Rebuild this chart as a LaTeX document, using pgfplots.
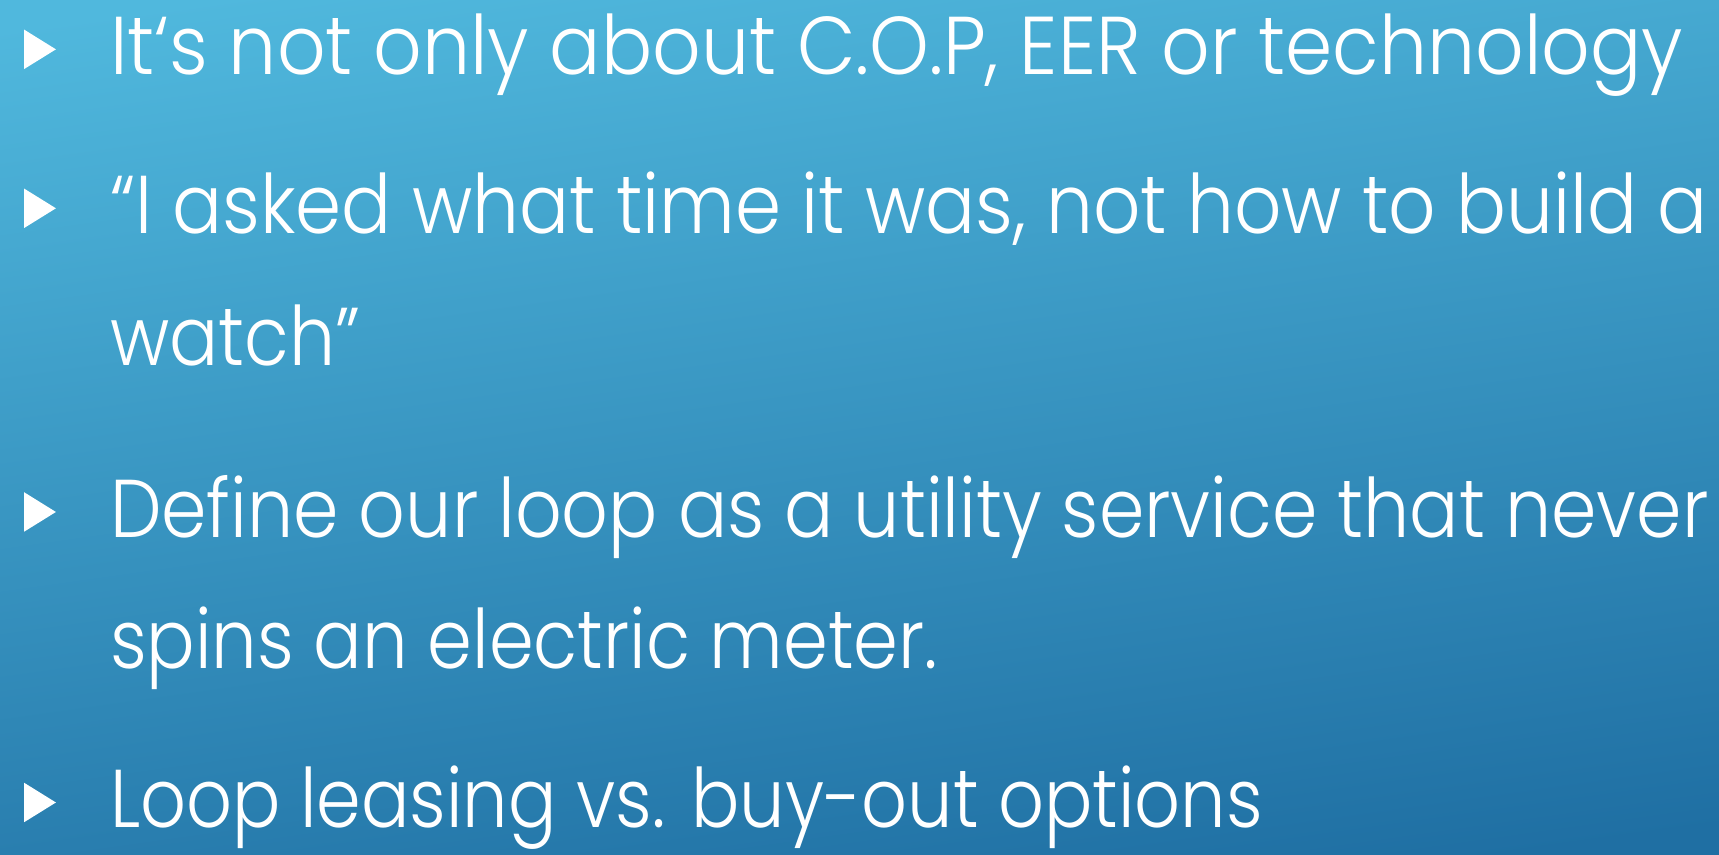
\documentclass[border=0pt]{standalone}
\usepackage{pgfplots}
\pgfplotsset{compat=1.18}
\usepackage{fontspec}
\setmainfont{Poppins}[UprightFont=* Light]
\definecolor{bgtop}{HTML}{50B8DD}
\definecolor{bgbot}{HTML}{1F6FA3}
\newcommand{\slidefont}{\fontsize{41}{41}\selectfont}
\newcommand{\sq}[2][0.875]{\scalebox{#1}[1]{#2}}
\begin{document}
\begin{tikzpicture}
\begin{axis}[
  scale only axis, width=859.5pt, height=427pt,
  xmin=0, xmax=1568, ymin=0, ymax=779, y dir=reverse,
  hide axis, clip=true,
]
\shade[top color=bgtop, bottom color=bgbot, shading angle=8]
  (axis cs:-50,-30) rectangle (axis cs:1620,810);
% bullet triangles (baselines 68, 213, 490, 755)
\addplot[fill=white, draw=none] coordinates {(22,27) (51,45) (22,63)} -- cycle;
\addplot[fill=white, draw=none] coordinates {(22,172) (51,190) (22,208)} -- cycle;
\addplot[fill=white, draw=none] coordinates {(22,449) (51,467) (22,485)} -- cycle;
\addplot[fill=white, draw=none] coordinates {(22,714) (51,732) (22,750)} -- cycle;
\node[anchor=base west, inner sep=0pt, text=white, font=\slidefont] at (axis cs:100,68) {\sq[0.926]{It‘s not only about C.O.P, EER or technology}};
\node[anchor=base west, inner sep=0pt, text=white, font=\slidefont] at (axis cs:100,213) {\sq[0.903]{“I asked what time it was, not how to build a}};
\node[anchor=base west, inner sep=0pt, text=white, font=\slidefont] at (axis cs:100,333) {\sq[0.888]{watch”}};
\node[anchor=base west, inner sep=0pt, text=white, font=\slidefont] at (axis cs:100,490) {\sq[0.89]{Define our loop as a utility service that never}};
\node[anchor=base west, inner sep=0pt, text=white, font=\slidefont] at (axis cs:100,610) {\sq[0.878]{spins an electric meter.}};
\node[anchor=base west, inner sep=0pt, text=white, font=\slidefont] at (axis cs:100,755) {\sq[0.875]{Loop leasing vs. buy-out options}};
\end{axis}
\pgfresetboundingbox
\useasboundingbox (current axis.south west) rectangle (current axis.north east);
\end{tikzpicture}
\end{document}
